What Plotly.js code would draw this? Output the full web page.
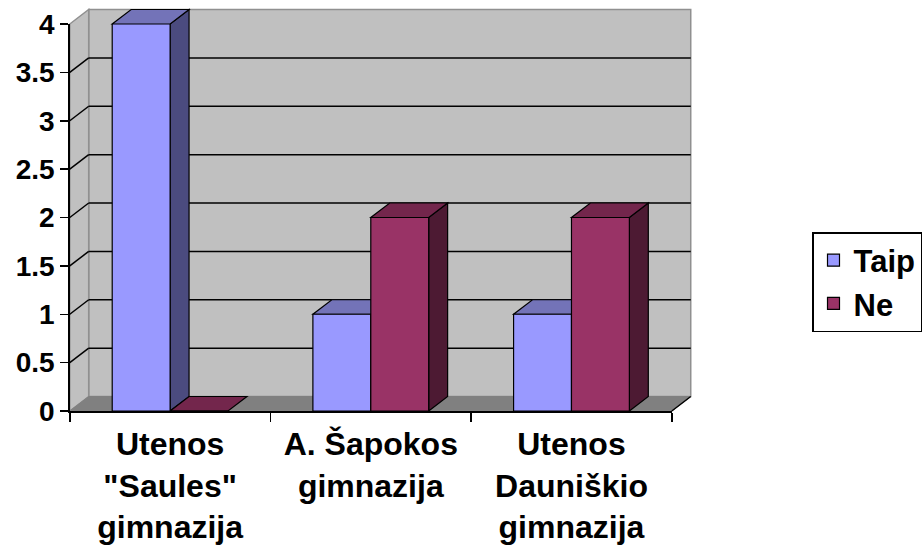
<!DOCTYPE html>
<html>
<head>
<meta charset="utf-8">
<script src="https://cdn.plot.ly/plotly-3.0.1.min.js"></script>
<style>
  html, body { margin: 0; padding: 0; background: #fff; }
  #plot { width: 922px; height: 550px; }
</style>
</head>
<body>
<div id="plot"></div>
<script>
const categories = ['Utenos<br>"Saules"<br>gimnazija', 'A. Šapokos<br>gimnazija', 'Utenos<br>Dauniškio<br>gimnazija'];
const taip = [4, 1, 1];
const ne = [0, 2, 2];
const yTicks = [0, 0.5, 1, 1.5, 2, 2.5, 3, 3.5, 4];

const W = 922, H = 550;
const xDomain = [70 / W, 674 / W];
const yDomain = [1 - 411 / H, 1 - 24 / H];
const xRange = [-0.5, 2.5];
const yRange = [0, 4];
const dx = 19 / W;     // depth offset, paper units
const dy = 14.5 / H;
const bargap = 0.423;
const barW = (1 - bargap) / 2;

// data -> paper
function X(u) { return xDomain[0] + (u - xRange[0]) / (xRange[1] - xRange[0]) * (xDomain[1] - xDomain[0]); }
function Y(v) { return yDomain[0] + (v - yRange[0]) / (yRange[1] - yRange[0]) * (yDomain[1] - yDomain[0]); }

function poly(pts, fill, line, width) {
    let path = 'M' + pts.map(p => p[0] + ',' + p[1]).join(' L') + ' Z';
    return { type: 'path', xref: 'paper', yref: 'paper', path: path, fillcolor: fill,
             line: { color: line, width: width === undefined ? 1 : width }, layer: 'below' };
}
function seg(x0, y0, x1, y1, color, width) {
    return { type: 'line', xref: 'paper', yref: 'paper', x0: x0, y0: y0, x1: x1, y1: y1,
             line: { color: color, width: width }, layer: 'below' };
}

let shapes = [];
const xl = X(xRange[0]), xr = X(xRange[1]), y0 = Y(0), y4 = Y(yRange[1]);

// back wall, side wall, floor
shapes.push(poly([[xl + dx, y0 + dy], [xr + dx, y0 + dy], [xr + dx, y4 + dy], [xl + dx, y4 + dy]], '#c0c0c0', '#909090', 1.5));
shapes.push(poly([[xl, y0], [xl, y4], [xl + dx, y4 + dy], [xl + dx, y0 + dy]], '#c0c0c0', '#909090', 1.5));
shapes.push(poly([[xl, y0], [xr, y0], [xr + dx, y0 + dy], [xl + dx, y0 + dy]], '#808080', '#808080', 1));
shapes.push(seg(xr, y0, xr + dx, y0 + dy, '#000', 1.5));

// gridlines
yTicks.forEach(v => {
    if (v <= yRange[0] || v >= yRange[1]) return;
    shapes.push(seg(xl + dx, Y(v) + dy, xr + dx, Y(v) + dy, '#000', 1.5));
    shapes.push(seg(xl, Y(v), xl + dx, Y(v) + dy, '#000', 1.5));
});

// bar sides and tops
function box3d(vals, offset, topCol, sideCol) {
    vals.forEach((v, j) => {
        let a = X(j + offset), b = X(j + offset + barW), t = Y(v);
        if (v > 0) shapes.push(poly([[b, y0], [b, t], [b + dx, t + dy], [b + dx, y0 + dy]], sideCol, '#000', 1.2));
        shapes.push(poly([[a, t], [b, t], [b + dx, t + dy], [a + dx, t + dy]], topCol, '#000', 1.2));
    });
}
box3d(taip, -barW, '#7373b8', '#4b4b7f');
box3d(ne, 0, '#73264c', '#4d1a33');

const fam = 'Liberation Sans, Arial, sans-serif';
const xFont = { family: fam, size: 32, color: '#000', weight: 'bold' };
const yFont = { family: fam, size: 28, color: '#000', weight: 'bold' };
const legFont = { family: fam, size: 31, color: '#000', weight: 'bold' };

let traces = [
    { type: 'bar', name: 'Taip', x: categories, y: taip, legendgroup: 'a',
      marker: { color: '#9999ff', line: { color: '#000', width: 1.2 } } },
    { type: 'bar', name: 'Ne', x: categories, y: ne, legendgroup: 'b',
      marker: { color: '#993366', line: { color: '#000', width: 1.2 } } }
];

let layout = {
    width: W, height: H,
    margin: { l: 0, r: 0, t: 0, b: 0 },
    paper_bgcolor: '#fff',
    plot_bgcolor: 'rgba(0,0,0,0)',
    barmode: 'group',
    bargap: bargap,
    bargroupgap: 0,
    font: yFont,
    showlegend: true,
    legend: {
        x: 815 / W, y: 1 - 232 / H, xanchor: 'left', yanchor: 'top',
        bgcolor: '#fff', bordercolor: '#000', borderwidth: 1.5,
        font: legFont, tracegroupgap: 6, traceorder: 'normal'
    },
    xaxis: {
        domain: xDomain, range: xRange, type: 'category',
        showline: true, linecolor: '#000', linewidth: 1.5,
        ticks: 'outside', tickson: 'boundaries', ticklen: 9, tickcolor: '#000', tickwidth: 1.5,
        ticklabelstandoff: 4,
        showgrid: false, zeroline: false, tickfont: xFont, fixedrange: true
    },
    yaxis: {
        domain: yDomain, range: yRange,
        tickvals: yTicks, ticktext: yTicks.map(String),
        showline: true, linecolor: '#000', linewidth: 1.5,
        ticks: 'outside', ticklen: 8, tickcolor: '#000', tickwidth: 1.5,
        showgrid: false, zeroline: false, tickfont: yFont, fixedrange: true
    },
    shapes: shapes
};

Plotly.newPlot('plot', traces, layout, { displayModeBar: false, staticPlot: true });
</script>
</body>
</html>
